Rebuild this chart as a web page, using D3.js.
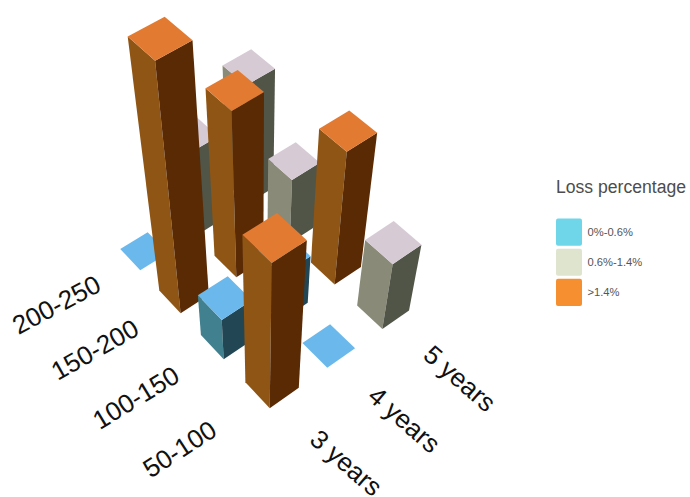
<!DOCTYPE html>
<html><head><meta charset="utf-8">
<script src="https://cdn.jsdelivr.net/npm/d3@7"></script>
<style>html,body{margin:0;background:#fff}svg{display:block}text{font-family:"Liberation Sans",Arial,sans-serif}</style>
</head><body><svg id="c" width="690" height="497"></svg>
<script>
const terms = ["3 years","4 years","5 years"];
const amounts = ["50-100","100-150","150-200","200-250"];
const loss3y = [1.71,0.51,2.56,0];
const loss4y = [0,0.58,1.81,0.97];
const loss5y = [0.8,1.49,0.75,1.32];
const legendTitle = "Loss percentage";
const legendLabels = ["0%-0.6%","0.6%-1.4%",">1.4%"];
const thresholds = [0.6,1.4];

// camera: ground corners and the vertical vanishing point
const P00=[272,385],P10=[383,308],P01=[144,251],P11=[250,186],VP=[260,1100];
const dx1=P10[0]-P11[0],dx2=P01[0]-P11[0],sx=P00[0]-P10[0]+P11[0]-P01[0];
const dy1=P10[1]-P11[1],dy2=P01[1]-P11[1],sy=P00[1]-P10[1]+P11[1]-P01[1];
const den=dx1*dy2-dx2*dy1, G=(sx*dy2-dx2*sy)/den, H=(dx1*sy-sx*dy1)/den;
const A=P10[0]-P00[0]+G*P10[0],B=P01[0]-P00[0]+H*P01[0],D=P10[1]-P00[1]+G*P10[1],E=P01[1]-P00[1]+H*P01[1];
const zScale=d3.scaleLinear().domain([0,1]).range([0,-0.1]);
function project(u,v,val){
  const kz=zScale(val), w=1+G*u+H*v+kz;
  return [(A*u+B*v+P00[0]+kz*VP[0])/w,(D*u+E*v+P00[1]+kz*VP[1])/w];
}
const uScale=d3.scaleBand().domain(terms).range([-0.25,1.25]).paddingInner(.5).paddingOuter(.25);
const vScale=d3.scaleBand().domain(amounts).range([-1/6,7/6]).paddingInner(.48).paddingOuter(.24);
const palette=d3.scaleThreshold().domain(thresholds).range([
 {top:"#6bb8ec",left:"#41808f",right:"#234654"},
 {top:"#d6cad4",left:"#8a8a78",right:"#505548"},
 {top:"#e27a31",left:"#8f5514",right:"#5a2a05"}]);
const legendColor=d3.scaleOrdinal().domain(legendLabels).range(["#6fd6ea","#dfe4cf","#f68f30"]);

const bars=[];
[loss3y,loss4y,loss5y].forEach((s,i)=>s.forEach((val,j)=>bars.push({term:terms[i],amount:amounts[j],val})));
bars.sort((a,b)=>(uScale(b.term)+vScale(b.amount))-(uScale(a.term)+vScale(a.amount)));

const svg=d3.select("#c"), line=d3.line();
const g=svg.append("g");
const bar=g.selectAll("g").data(bars).join("g");
function corners(d){const u0=uScale(d.term),u1=u0+uScale.bandwidth(),v0=vScale(d.amount),v1=v0+vScale.bandwidth();return {u0,u1,v0,v1};}
bar.filter(d=>d.val>0).append("path").attr("fill",d=>palette(d.val).left).attr("d",d=>{const c=corners(d);
  return line([project(c.u0,c.v1,0),project(c.u0,c.v0,0),project(c.u0,c.v0,d.val),project(c.u0,c.v1,d.val)])+"Z";});
bar.filter(d=>d.val>0).append("path").attr("fill",d=>palette(d.val).right).attr("d",d=>{const c=corners(d);
  return line([project(c.u0,c.v0,0),project(c.u1,c.v0,0),project(c.u1,c.v0,d.val),project(c.u0,c.v0,d.val)])+"Z";});
bar.append("path").attr("fill",d=>palette(d.val).top).attr("d",d=>{const c=corners(d);
  return line([project(c.u0,c.v0,d.val),project(c.u1,c.v0,d.val),project(c.u1,c.v1,d.val),project(c.u0,c.v1,d.val)])+"Z";});

// axis labels
svg.append("g").selectAll("text").data(amounts).join("text")
  .text(d=>d).attr("fill","#111").attr("font-size",26).attr("text-anchor","middle").attr("dominant-baseline","central")
  .attr("transform",(d,j)=>{const p=project(-0.77,vScale(d)+vScale.bandwidth()/2,0);return `translate(${p[0]},${p[1]}) rotate(${-33+j*1.7})`;});
svg.append("g").selectAll("text").data(terms).join("text")
  .text(d=>d).attr("fill","#111").attr("font-size",26).attr("text-anchor","middle").attr("dominant-baseline","central")
  .attr("transform",d=>{const p=project(uScale(d)+uScale.bandwidth()/2,-0.5,0);return `translate(${p[0]},${p[1]}) rotate(41)`;});

// legend
svg.append("text").attr("x",556).attr("y",193).attr("font-size",17.6).attr("fill","#4d4d4d").text(legendTitle);
const yLeg=d3.scaleBand().domain(legendLabels).range([218.5,306]).paddingInner(.1);
const lg=svg.append("g").selectAll("g").data(legendLabels).join("g");
lg.append("rect").attr("x",556).attr("y",d=>yLeg(d)).attr("width",26).attr("height",yLeg.bandwidth()).attr("rx",2).attr("fill",d=>legendColor(d));
lg.append("text").attr("x",587.5).attr("y",d=>yLeg(d)+yLeg.bandwidth()/2).attr("dominant-baseline","central").attr("font-size",11.2).attr("fill","#555").text(d=>d);
</script></body></html>
